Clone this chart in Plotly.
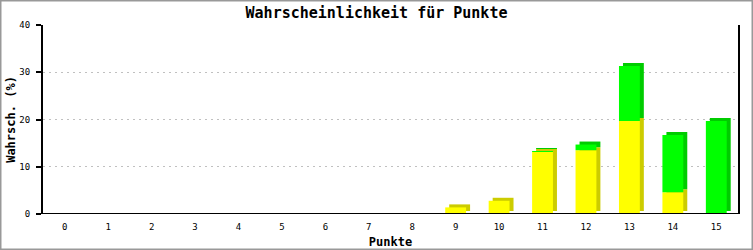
import plotly.graph_objects as go

categories = list(range(16))
yellow_vals = [0, 0, 0, 0, 0, 0, 0, 0, 0, 1.4, 2.8, 13.2, 13.5, 19.7, 4.6, 0]
green_vals = [0, 0, 0, 0, 0, 0, 0, 0, 0, 0, 0, 0.1, 1.2, 11.6, 12.1, 19.7]
tick_labels = [str(c) for c in categories]

W, H = 753, 250
ML, MR, MT, MB = 43, 15, 25, 36
pw, ph = W - ML - MR, H - MT - MB
ymax = 40
bw = 0.48
dx = 4 / (pw / 16)
dy = 3 / (ph / ymax)

mono = "DejaVu Sans Mono"
fig = go.Figure()
green_base = yellow_vals
# dark (depth) parts
fig.add_trace(go.Bar(x=categories, y=yellow_vals, base=[dy] * 16, width=bw, offset=-bw / 2 + dx,
                     marker=dict(color="#cccc00", line=dict(width=0)), hoverinfo="skip"))
fig.add_trace(go.Bar(x=categories, y=green_vals, base=[b + dy for b in green_base], width=bw, offset=-bw / 2 + dx,
                     marker=dict(color="#00cc00", line=dict(width=0)), hoverinfo="skip"))
# front parts
fig.add_trace(go.Bar(x=categories, y=yellow_vals, base=[0] * 16, width=bw, offset=-bw / 2,
                     marker=dict(color="#ffff00", line=dict(width=0)), hoverinfo="skip"))
fig.add_trace(go.Bar(x=categories, y=green_vals, base=green_base, width=bw, offset=-bw / 2,
                     marker=dict(color="#00ff00", line=dict(width=0)), hoverinfo="skip"))

fig.update_layout(
    width=W, height=H, barmode="overlay", showlegend=False,
    margin=dict(l=ML, r=MR, t=MT, b=MB, pad=0, autoexpand=False),
    paper_bgcolor="white", plot_bgcolor="white",
    title=dict(text="Wahrscheinlichkeit für Punkte", x=0.5, xref="container", xanchor="center",
               y=1 - 13 / H, yref="container", yanchor="middle", automargin=False,
               font=dict(family=mono, size=15, color="black", weight="bold")),
    xaxis=dict(range=[-0.5, 15.5], tickvals=categories, ticktext=tick_labels, ticks="",
               showgrid=False, zeroline=False, showline=False, ticklabelstandoff=6, automargin=False,
               tickfont=dict(family=mono, size=9, color="black"),
               title=dict(text="Punkte", standoff=6, font=dict(family=mono, size=12, color="black", weight="bold"))),
    yaxis=dict(range=[0, ymax], tickvals=[0, 10, 20, 30, 40], ticks="outside", ticklen=5, tickwidth=1.5,
               tickcolor="black", showline=True, linecolor="black", linewidth=2, mirror=True,
               showgrid=True, gridcolor="#c0c0c0", griddash="2px,4px", gridwidth=1, zeroline=False,
               ticklabelstandoff=4, automargin=False,
               tickfont=dict(family=mono, size=9, color="black"),
               title=dict(text="Wahrsch. (%)", standoff=1, font=dict(family=mono, size=12, color="black", weight="bold"))),
    shapes=[
        dict(type="line", xref="paper", yref="y", x0=0, x1=1, y0=0, y1=0, line=dict(color="black", width=2), layer="above"),
        dict(type="rect", xref="paper", yref="paper",
             x0=-(ML - 0.75) / pw, x1=1 + (MR - 0.75) / pw,
             y0=-(MB - 0.75) / ph, y1=1 + (MT - 0.75) / ph,
             line=dict(color="#999999", width=1.5), layer="above"),
    ],
)

fig.write_html("out.html")
